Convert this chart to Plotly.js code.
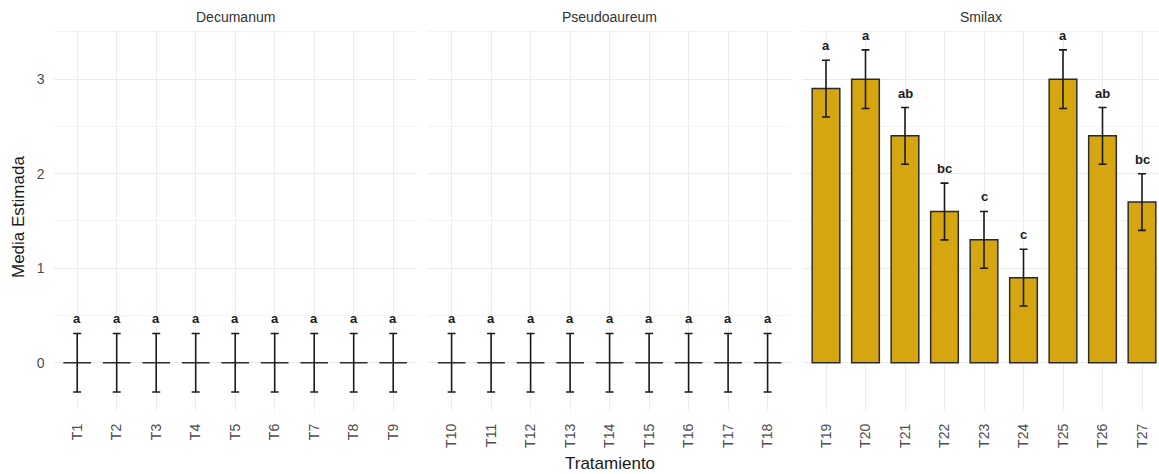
<!DOCTYPE html>
<html>
<head>
<meta charset="utf-8">
<script src="https://cdn.plot.ly/plotly-3.0.1.min.js"></script>
<style>html,body{margin:0;padding:0;background:#fff;}#chart{width:1159px;height:474px;}</style>
</head>
<body>
<div id="chart"></div>
<script>
// ---- data ----
const facetas = ["Decumanum", "Pseudoaureum", "Smilax"];

const trat1 = ["T1","T2","T3","T4","T5","T6","T7","T8","T9"];
const media1 = [0,0,0,0,0,0,0,0,0];
const ee1 = [0.31,0.31,0.31,0.31,0.31,0.31,0.31,0.31,0.31];
const letras1 = ["a","a","a","a","a","a","a","a","a"];

const trat2 = ["T10","T11","T12","T13","T14","T15","T16","T17","T18"];
const media2 = [0,0,0,0,0,0,0,0,0];
const ee2 = [0.31,0.31,0.31,0.31,0.31,0.31,0.31,0.31,0.31];
const letras2 = ["a","a","a","a","a","a","a","a","a"];

const trat3 = ["T19","T20","T21","T22","T23","T24","T25","T26","T27"];
const media3 = [2.9,3.0,2.4,1.6,1.3,0.9,3.0,2.4,1.7];
const ee3 = [0.3,0.31,0.3,0.3,0.3,0.3,0.31,0.3,0.3];
const letras3 = ["a","a","ab","bc","c","c","a","ab","bc"];

const yTicks = [0,1,2,3];

// ---- styling ----
const W = 1159, H = 474;
const fill = "#D5A610";
const ink = "#1a1a1a";
const gridCol = "#ebebeb";
const font = "Liberation Sans, Arial, sans-serif";

const panels = [
  {t: trat1, m: media1, e: ee1, l: letras1},
  {t: trat2, m: media2, e: ee2, l: letras2},
  {t: trat3, m: media3, e: ee3, l: letras3}
];

const step = 39.5, left0 = 53.5, gap = 11;
const panelW = 9.2 * step;

const traces = [];
const annotations = [];
const layout = {
  width: W, height: H,
  margin: {l: 0, r: 0, t: 0, b: 0},
  paper_bgcolor: "#fff", plot_bgcolor: "#fff",
  showlegend: false,
  font: {family: font, color: ink},
  yaxis: {
    domain: [64 / H, 444 / H],
    range: [-0.5, 3.52],
    tickvals: yTicks,
    ticks: "",
    ticklabelstandoff: 8,
    tickfont: {size: 14, color: "#4d4d4d", family: font},
    showgrid: true, gridcolor: gridCol, gridwidth: 1,
    minor: {dtick: 0.5, tick0: 0.5, showgrid: true, gridcolor: "#f0f0f0", gridwidth: 0.7},
    zeroline: false, showline: false, fixedrange: true,
    anchor: "x"
  },
  annotations: annotations
};

panels.forEach((p, i) => {
  const xa = i === 0 ? "x" : "x" + (i + 1);
  const xk = i === 0 ? "xaxis" : "xaxis" + (i + 1);
  const x0 = left0 + i * (panelW + gap);
  let x1 = x0 + panelW;
  let rEnd = p.t.length - 0.4;
  if (x1 > W) { rEnd = -0.6 + (W - x0) / step; x1 = W; }
  layout[xk] = {
    domain: [x0 / W, x1 / W],
    range: [-0.6, rEnd],
    type: "category",
    categoryorder: "array", categoryarray: p.t,
    tickangle: -90,
    ticks: "",
    ticklabelstandoff: 10,
    tickfont: {size: 14, color: "#4d4d4d", family: font},
    showgrid: true, gridcolor: gridCol, gridwidth: 1,
    zeroline: false, showline: false, fixedrange: true,
    anchor: "y"
  };
  // bars
  traces.push({
    type: "bar", x: p.t, y: p.m, xaxis: xa, yaxis: "y",
    width: 0.7,
    marker: {color: fill, line: {color: "#2b2b2b", width: 1.5}},
    hoverinfo: "x+y"
  });
  // error bars (+ collapsed bar outline for zero means)
  traces.push({
    type: "scatter", mode: "markers", x: p.t, y: p.m, xaxis: xa, yaxis: "y",
    marker: {size: 1, color: "rgba(0,0,0,0)"},
    error_y: {type: "data", array: p.e, visible: true, color: ink, thickness: 1.6, width: 4},
    error_x: {type: "data", array: p.m.map(v => v === 0 ? 0.35 : 0), visible: true, color: ink, thickness: 1.6, width: 0},
    hoverinfo: "skip"
  });
  // letters
  p.t.forEach((t, j) => {
    annotations.push({
      xref: xa, yref: "y", x: t, y: p.m[j] + p.e[j],
      text: "<b>" + p.l[j] + "</b>", showarrow: false,
      yanchor: "bottom", yshift: 5,
      font: {size: 13, color: ink, family: font}
    });
  });
  // facet title
  annotations.push({
    xref: xa + " domain", yref: "paper", x: 0.5, y: (H - 17) / H,
    text: facetas[i], showarrow: false, xanchor: "center", yanchor: "middle",
    font: {size: 14, color: "#333333", family: font}
  });
});

// axis titles
annotations.push({
  xref: "paper", yref: "paper", x: 610 / W, y: (H - 463) / H,
  text: "Tratamiento", showarrow: false, xanchor: "center", yanchor: "middle",
  font: {size: 17, color: ink, family: font}
});
annotations.push({
  xref: "paper", yref: "paper", x: 19 / W, y: (H - 217) / H,
  text: "Media Estimada", showarrow: false, textangle: -90,
  xanchor: "center", yanchor: "middle",
  font: {size: 17, color: ink, family: font}
});

Plotly.newPlot("chart", traces, layout, {displayModeBar: false, staticPlot: true});
</script>
</body>
</html>
